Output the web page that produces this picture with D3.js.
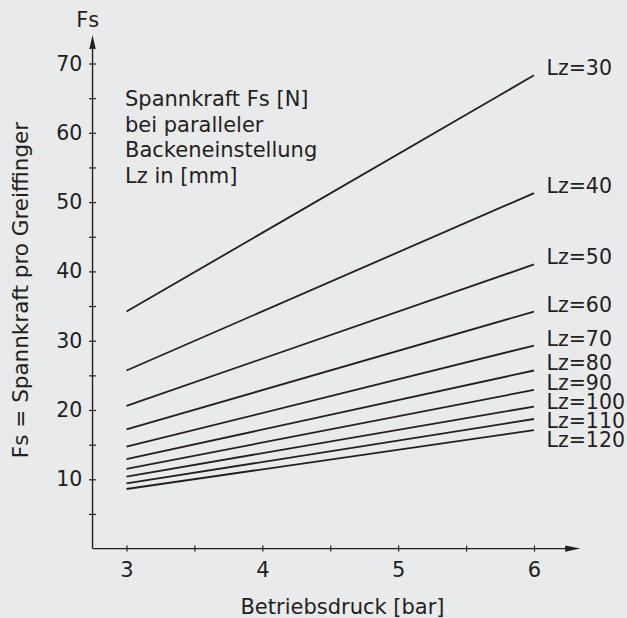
<!DOCTYPE html>
<html>
<head>
<meta charset="utf-8">
<script src="https://cdn.jsdelivr.net/npm/d3@7"></script>
<style>
  html, body { margin: 0; padding: 0; background: #e9eaec; }
  svg { display: block; }
  text { font-family: "DejaVu Sans", sans-serif; fill: #231f20; }
</style>
</head>
<body>
<svg id="chart" width="627" height="618"></svg>
<script>
// ---- data ----
const pressures = [3, 6];
const lzValues = [30, 40, 50, 60, 70, 80, 90, 100, 110, 120];
const forceAt3bar = [34.2, 25.7, 20.6, 17.2, 14.7, 12.9, 11.5, 10.4, 9.4, 8.6];
const forceAt6bar = [68.3, 51.3, 41.0, 34.2, 29.3, 25.7, 22.9, 20.5, 18.7, 17.1];
const xTickValues = [3, 3.5, 4, 4.5, 5, 5.5, 6];
const xTickLabels = ["3", "", "4", "", "5", "", "6"];
const yTickValues = [5, 10, 15, 20, 25, 30, 35, 40, 45, 50, 55, 60, 65, 70];
const yTickLabels = ["", "10", "", "20", "", "30", "", "40", "", "50", "", "60", "", "70"];
const noteLines = ["Spannkraft Fs [N]", "bei paralleler", "Backeneinstellung", "Lz in [mm]"];

const ink = "#231f20";
const font = "'DejaVu Sans', sans-serif";
const svg = d3.select("#chart");

const x = d3.scaleLinear().domain([3, 6]).range([126.5, 534]);
const y = d3.scaleLinear().domain([0, 70]).range([548.6, 63.5]);

const xMin = 2.75, xMax = 6.34, yMax = 74.1;

// axes lines with arrows
const axisG = svg.append("g");
axisG.append("line")
  .attr("x1", x(xMin)).attr("x2", x(xMax) - 10)
  .attr("y1", y(0)).attr("y2", y(0))
  .attr("stroke", ink).attr("stroke-width", 1.4);
axisG.append("line")
  .attr("x1", x(xMin)).attr("x2", x(xMin))
  .attr("y1", y(0)).attr("y2", y(yMax) + 10)
  .attr("stroke", ink).attr("stroke-width", 1.4);
axisG.append("path")
  .attr("d", `M${x(xMax)},${y(0)} L${x(xMax) - 15},${y(0) - 3.2} L${x(xMax) - 15},${y(0) + 3.2} Z`)
  .attr("fill", ink);
axisG.append("path")
  .attr("d", `M${x(xMin)},${y(yMax)} L${x(xMin) - 3.2},${y(yMax) + 14} L${x(xMin) + 3.2},${y(yMax) + 14} Z`)
  .attr("fill", ink);

// x axis ticks
const xAxis = d3.axisBottom(x)
  .tickValues(xTickValues)
  .tickFormat((d, i) => xTickLabels[i])
  .tickSize(3).tickPadding(10.7);
const gx = svg.append("g").attr("transform", `translate(0,${y(0)})`).call(xAxis);
gx.select(".domain").remove();
gx.selectAll(".tick line").attr("y1", -3).attr("y2", 3).attr("stroke", ink).attr("stroke-width", 1.2);
gx.selectAll(".tick text").attr("font-size", 21).attr("fill", ink).style("font-family", font);

// y axis ticks
const yAxis = d3.axisLeft(y)
  .tickValues(yTickValues)
  .tickFormat((d, i) => yTickLabels[i])
  .tickSize(4).tickPadding(6.3);
const gy = svg.append("g").attr("transform", `translate(${x(xMin)},0)`).call(yAxis);
gy.select(".domain").remove();
gy.selectAll(".tick line").attr("x1", -3.5).attr("x2", 3.5).attr("stroke", ink).attr("stroke-width", 1.2);
gy.selectAll(".tick text").attr("font-size", 20.5).attr("fill", ink).style("font-family", font);

// series lines
const line = d3.line().x(d => x(d[0])).y(d => y(d[1]));
const series = lzValues.map((lz, i) => ({
  lz,
  pts: [[pressures[0], forceAt3bar[i]], [pressures[1], forceAt6bar[i]]]
}));
svg.append("g").selectAll("path").data(series).join("path")
  .attr("d", d => line(d.pts))
  .attr("fill", "none").attr("stroke", ink).attr("stroke-width", 1.8);

// labels, stacked to avoid overlap
let prev = -Infinity;
const labelY = series.map(d => {
  let yy = y(d.pts[1][1]);
  if (yy < prev + 19) yy = prev + 19;
  prev = yy;
  return yy;
});
svg.append("g").selectAll("text").data(series).join("text")
  .attr("x", x(6) + 12.5)
  .attr("y", (d, i) => labelY[i])
  .attr("font-size", 20.5)
  .text(d => "Lz=" + d.lz);

// note block
svg.append("g").selectAll("text").data(noteLines).join("text")
  .attr("x", 125)
  .attr("y", (d, i) => 106 + i * 25.7)
  .attr("font-size", 21)
  .text(d => d);

// axis titles
svg.append("text")
  .attr("x", x(xMin) - 4.8).attr("y", 26.5)
  .attr("text-anchor", "middle").attr("font-size", 21)
  .text("Fs");
svg.append("text")
  .attr("transform", `translate(28.3,290) rotate(-90)`)
  .attr("text-anchor", "middle").attr("font-size", 21.5)
  .text("Fs = Spannkraft pro Greiffinger");
svg.append("text")
  .attr("x", 342.5).attr("y", 613.5)
  .attr("text-anchor", "middle").attr("font-size", 21)
  .text("Betriebsdruck [bar]");
</script>
</body>
</html>
